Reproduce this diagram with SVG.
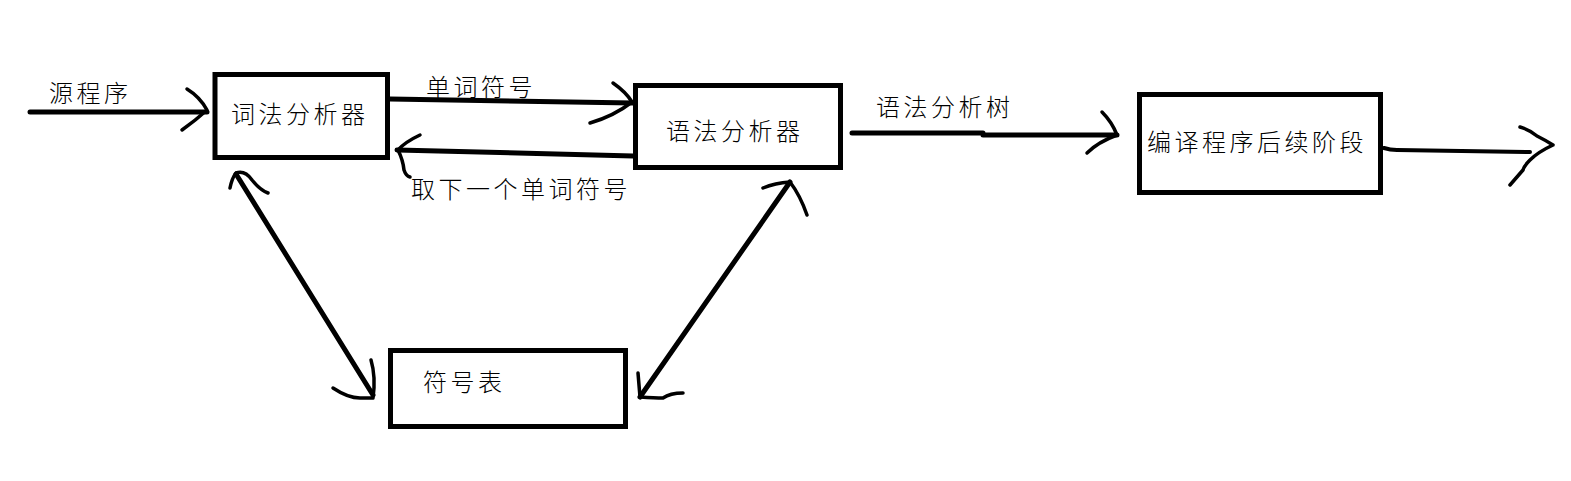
<svg xmlns="http://www.w3.org/2000/svg" width="1571" height="481" viewBox="0 0 1571 481">
<style>
.box{fill:#fff;stroke:#000;stroke-width:5}
.lbl{font-family:"Noto Sans CJK SC","Noto Sans CJK JP",sans-serif;font-size:24px;font-weight:300;letter-spacing:3.5px;fill:#000}
.ln{fill:none;stroke:#000;stroke-width:5;stroke-linecap:round;stroke-linejoin:round}
.hd{fill:none;stroke:#000;stroke-width:3.5;stroke-linecap:round;stroke-linejoin:round}
</style>
<rect width="1571" height="481" fill="#fff"/>
<g id="connectors">
  <path class="ln" d="M30 112 L207 112"/>
  <path class="hd" d="M187 89 Q200 97 207 110 Q196 120 182 130"/>
  <path class="ln" d="M390 99 L633 103"/>
  <path class="hd" d="M613 83 Q626 92 632 102 Q614 116 590 123"/>
  <path class="ln" d="M633 156 L397 150"/>
  <path class="hd" d="M420 135 Q405 142 398 150 Q403 160 404 170 Q406 176 410 177"/>
  <path class="ln" d="M852 133 L983 133 M983 135 L1117 135"/>
  <path class="hd" d="M1102 112 Q1112 122 1117 135 Q1098 142 1087 153"/>
  <path class="ln" style="stroke-width:4" d="M1384 148 Q1390 150 1397 150 L1530 152"/>
  <path class="hd" d="M1520 127 Q1530 130 1537 136 Q1545 140 1553 145 Q1538 152 1530 160 Q1524 166 1523 170 L1510 185"/>
  <path class="ln" d="M236 174 L373 395"/>
  <path class="hd" d="M230 188 Q232 178 236 173 Q245 170 252 180 Q260 190 268 193"/>
  <path class="hd" d="M371 360 Q376 377 373 398 M333 388 Q348 398 360 398 L373 398"/>
  <path class="ln" d="M790 182 L640 397"/>
  <path class="hd" d="M763 188 Q775 183 790 182 Q800 195 807 215"/>
  <path class="hd" d="M638 373 L640 397 Q655 398 663 398 Q670 393 683 393"/>
</g>
<g id="source-label"><text class="lbl" x="49" y="102">源程序</text></g>
<g id="lexer"><rect class="box" x="215" y="74.5" width="172.5" height="83"/><text class="lbl" x="231" y="123">词法分析器</text></g>
<g id="token-label"><text class="lbl" x="426" y="96">单词符号</text></g>
<g id="next-token-label"><text class="lbl" x="411" y="198">取下一个单词符号</text></g>
<g id="parser"><rect class="box" x="635.5" y="85.5" width="205" height="82"/><text class="lbl" x="666" y="140">语法分析器</text></g>
<g id="tree-label"><text class="lbl" x="876" y="116">语法分析树</text></g>
<g id="backend"><rect class="box" x="1139.5" y="94.5" width="241" height="98"/><text class="lbl" x="1147" y="151">编译程序后续阶段</text></g>
<g id="symtab"><rect class="box" x="390.5" y="350.5" width="235" height="76"/><text class="lbl" x="423" y="391">符号表</text></g>
</svg>
